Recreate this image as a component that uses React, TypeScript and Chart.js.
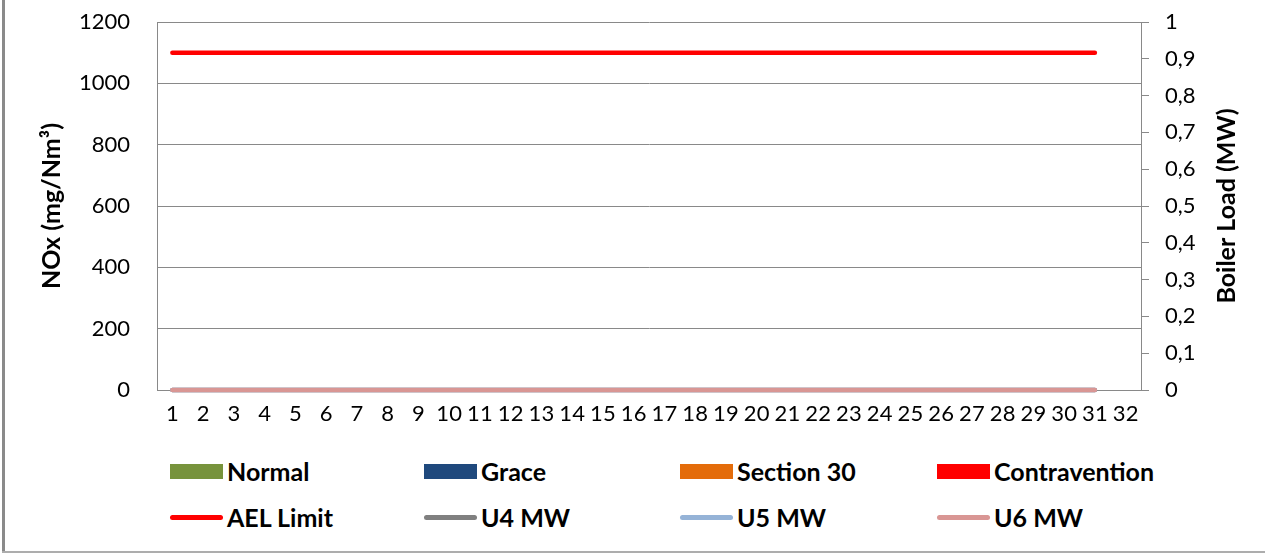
import React, { useEffect, useRef } from 'react';
import { Chart, registerables } from 'chart.js';

Chart.register(...registerables);

// ---------- data ----------
const days = ['1', '2', '3', '4', '5', '6', '7', '8', '9', '10', '11', '12', '13', '14', '15', '16',
  '17', '18', '19', '20', '21', '22', '23', '24', '25', '26', '27', '28', '29', '30', '31', '32'];

const normal = [0, 0, 0, 0, 0, 0, 0, 0, 0, 0, 0, 0, 0, 0, 0, 0, 0, 0, 0, 0, 0, 0, 0, 0, 0, 0, 0, 0, 0, 0, 0];
const grace = [0, 0, 0, 0, 0, 0, 0, 0, 0, 0, 0, 0, 0, 0, 0, 0, 0, 0, 0, 0, 0, 0, 0, 0, 0, 0, 0, 0, 0, 0, 0];
const section30 = [0, 0, 0, 0, 0, 0, 0, 0, 0, 0, 0, 0, 0, 0, 0, 0, 0, 0, 0, 0, 0, 0, 0, 0, 0, 0, 0, 0, 0, 0, 0];
const contravention = [0, 0, 0, 0, 0, 0, 0, 0, 0, 0, 0, 0, 0, 0, 0, 0, 0, 0, 0, 0, 0, 0, 0, 0, 0, 0, 0, 0, 0, 0, 0];

const aelLimit = [1100, 1100, 1100, 1100, 1100, 1100, 1100, 1100, 1100, 1100, 1100, 1100, 1100, 1100, 1100, 1100,
  1100, 1100, 1100, 1100, 1100, 1100, 1100, 1100, 1100, 1100, 1100, 1100, 1100, 1100, 1100];
const u4MW = [0, 0, 0, 0, 0, 0, 0, 0, 0, 0, 0, 0, 0, 0, 0, 0, 0, 0, 0, 0, 0, 0, 0, 0, 0, 0, 0, 0, 0, 0, 0];
const u5MW = [0, 0, 0, 0, 0, 0, 0, 0, 0, 0, 0, 0, 0, 0, 0, 0, 0, 0, 0, 0, 0, 0, 0, 0, 0, 0, 0, 0, 0, 0, 0];
const u6MW = [0, 0, 0, 0, 0, 0, 0, 0, 0, 0, 0, 0, 0, 0, 0, 0, 0, 0, 0, 0, 0, 0, 0, 0, 0, 0, 0, 0, 0, 0, 0];

const leftTickLabels = ['0', '200', '400', '600', '800', '1000', '1200'];
const rightTickLabels = ['0', '0,1', '0,2', '0,3', '0,4', '0,5', '0,6', '0,7', '0,8', '0,9', '1'];

const leftTitle = 'NOx (mg/Nm³)';
const rightTitle = 'Boiler Load (MW)';

const legendNames = ['Normal', 'Grace', 'Section 30', 'Contravention', 'AEL Limit', 'U4 MW', 'U5 MW', 'U6 MW'];
const legendColors = ['#77933C', '#1F497D', '#E46C0A', '#FF0000', '#FF0000', '#808080', '#95B3D7', '#D99694'];
const legendKinds = ['box', 'box', 'box', 'box', 'line', 'line', 'line', 'line'];

// ---------- styling ----------
const FONT = "Lato, 'Open Sans', sans-serif";
const AXIS = '#898989';

const rightTitlePlugin = {
  id: 'rightTitle',
  afterDraw(chart: any) {
    const ctx = chart.ctx;
    ctx.save();
    ctx.translate(1227, 206);
    ctx.rotate(-Math.PI / 2);
    ctx.font = `bold 25px ${FONT}`;
    ctx.fillStyle = '#000';
    ctx.textAlign = 'center';
    ctx.textBaseline = 'middle';
    ctx.fillText(rightTitle, 0, 0);
    ctx.restore();
  },
};

export default function App() {
  const ref = useRef<HTMLCanvasElement | null>(null);

  useEffect(() => {
    if (!ref.current) return;
    const chart = new Chart(ref.current, {
      type: 'bar',
      data: {
        labels: days,
        datasets: [
          { type: 'line', label: 'AEL Limit', data: aelLimit, yAxisID: 'y', borderColor: '#FF0000', backgroundColor: '#FF0000', borderWidth: 4.5, pointRadius: 0, borderCapStyle: 'round', clip: false, order: 0 },
          { type: 'line', label: 'U6 MW', data: u6MW, yAxisID: 'y1', borderColor: '#D99694', backgroundColor: '#D99694', borderWidth: 4.5, pointRadius: 0, borderCapStyle: 'round', clip: false, order: 1 },
          { type: 'line', label: 'U5 MW', data: u5MW, yAxisID: 'y1', borderColor: '#95B3D7', backgroundColor: '#95B3D7', borderWidth: 4.5, pointRadius: 0, borderCapStyle: 'round', clip: false, order: 2 },
          { type: 'line', label: 'U4 MW', data: u4MW, yAxisID: 'y1', borderColor: '#808080', backgroundColor: '#808080', borderWidth: 4.5, pointRadius: 0, borderCapStyle: 'round', clip: false, order: 3 },
          { type: 'bar', label: 'Normal', data: normal, yAxisID: 'y', backgroundColor: '#77933C', stack: 's', order: 4 },
          { type: 'bar', label: 'Grace', data: grace, yAxisID: 'y', backgroundColor: '#1F497D', stack: 's', order: 5 },
          { type: 'bar', label: 'Section 30', data: section30, yAxisID: 'y', backgroundColor: '#E46C0A', stack: 's', order: 6 },
          { type: 'bar', label: 'Contravention', data: contravention, yAxisID: 'y', backgroundColor: '#FF0000', stack: 's', order: 7 },
        ] as any,
      },
      plugins: [rightTitlePlugin],
      options: {
        responsive: false,
        animation: false,
        layout: { padding: { top: 22, left: 0, right: 0, bottom: 0 } },
        plugins: { legend: { display: false }, tooltip: { enabled: false } },
        scales: {
          x: {
            stacked: true,
            offset: true,
            grid: { display: false, drawTicks: false },
            border: { display: true, color: AXIS, width: 1 },
            ticks: { color: '#000', font: { family: FONT, size: 22 }, padding: 11, autoSkip: false, maxRotation: 0, minRotation: 0 },
            afterFit(scale: any) { scale.height = 50; scale.paddingLeft = 0; scale.paddingRight = 0; },
          },
          y: {
            position: 'left',
            stacked: true,
            min: 0,
            max: 1200,
            ticks: {
              stepSize: 200,
              color: '#000',
              font: { family: FONT, size: 22 },
              padding: 27,
              callback: (_v: any, i: number) => leftTickLabels[i],
            },
            grid: { color: AXIS, lineWidth: 1, drawTicks: false },
            border: { display: true, color: AXIS, width: 1 },
            title: { display: true, text: leftTitle, color: '#000', font: { family: FONT, size: 25, weight: 'bold' }, padding: { top: 37, bottom: 0 } },
            afterFit(scale: any) { scale.width = 157; scale.paddingTop = 0; scale.paddingBottom = 0; },
          },
          y1: {
            position: 'right',
            min: 0,
            max: 1,
            ticks: {
              stepSize: 0.1,
              color: '#000',
              font: { family: FONT, size: 22 },
              padding: 16,
              callback: (_v: any, i: number) => rightTickLabels[i],
            },
            grid: { drawOnChartArea: false, drawTicks: true, tickLength: 8, color: AXIS, lineWidth: 1 },
            border: { display: true, color: AXIS, width: 1 },
            afterFit(scale: any) { scale.width = 124; scale.paddingTop = 0; scale.paddingBottom = 0; },
          },
        },
      } as any,
    });
    return () => chart.destroy();
  }, []);

  const colX = [170, 424, 680, 937];
  const rowY = [471, 517];

  return (
    <div style={{ position: 'fixed', left: 0, top: 0, width: 1265, height: 555, background: '#fff', overflow: 'hidden' }}>
      <canvas ref={ref} width={1265} height={440} style={{ position: 'absolute', left: 0, top: 0, display: 'block' }} />
      <div style={{ position: 'absolute', left: 2, top: 0, width: 3, height: 553, background: '#8a8a8a' }} />
      <div style={{ position: 'absolute', left: 2, top: 551, width: 1263, height: 2, background: '#adadad' }} />
      {legendNames.map((name, i) => {
        const col = i % 4;
        const row = Math.floor(i / 4);
        const isBox = legendKinds[i] === 'box';
        return (
          <div key={name} style={{ position: 'absolute', left: colX[col], top: rowY[row] - 15, height: 30, display: 'flex', alignItems: 'center' }}>
            <span style={{
              display: 'inline-block',
              width: 53,
              height: isBox ? 15 : 5,
              background: legendColors[i],
              borderRadius: isBox ? 0 : 3,
            }} />
            <span style={{ marginLeft: 4, fontFamily: FONT, fontWeight: 'bold', fontSize: 25, color: '#000', whiteSpace: 'nowrap', lineHeight: '30px' }}>{name}</span>
          </div>
        );
      })}
    </div>
  );
}
